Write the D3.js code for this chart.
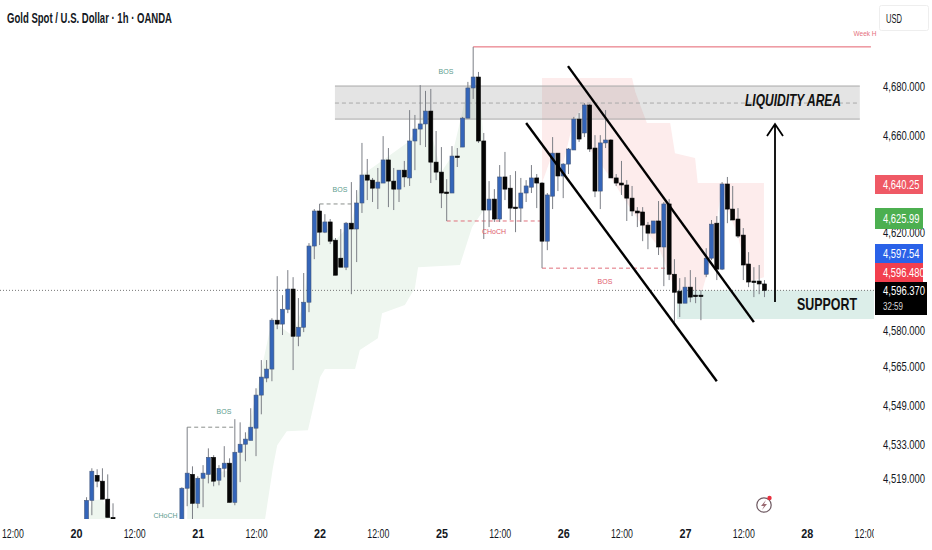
<!DOCTYPE html>
<html>
<head>
<meta charset="utf-8">
<script src="https://cdn.jsdelivr.net/npm/d3@7"></script>
<style>
  html, body { margin: 0; padding: 0; background: #fff; }
  svg { display: block; }
  text { font-family: "Liberation Sans", sans-serif; }
</style>
</head>
<body>
<div id="chart"></div>
<script>
// hourly candles, index 0 is 20th 02:00. null = below the visible pane
const opens = [4499.8,4510,4520.3,4517.9,4510.5,4503,null,null,null,null,null,null,null,null,null,null,null,null,
  4497.7,4515,4520.7,4508.8,4519.1,4520.7,4527.7,4518.3,4523.2,4525.3,4509.2,4529.8,4533.1,4534.7,4539.7,4553.3,4560.3,4564,4584.1,4582.5,4588.6,4596.9,
  4577.5,4581.2,4591.5,4614.6,4629,4620.3,4624.5,4617,4609.6,4605.9,4624,4621.6,4632.3,4643.8,4641.7,4638.4,4640.5,4650,4641.3,4638,4645.8,4642.6,4657.8,4662.7,4664.8,4670.1,4649.1,4645,4636.8,4636.4,4651.6,4655.3,4667.2,4679.6,4684.1,4657.8,4629.4,4633.9,4625.7,4643,
  4638.4,4630.6,4630.2,4636.4,4638.8,4642.6,4640.5,4616.6,4635.1,4652.8,4643.4,4648.3,4654.1,4666.8,4661.1,4672.6,4654.9,4637.2,4657,4658.2,4642.6,4640.5,4639.7,4634.3,4629,4628.6,4623.2,4619.9,4624.9,4614.2,4631.9,4603,4596,4591.1,4597.7,4594.4,4594.4,4603,4609.6,4624,4605.1,4640.1,4629.8,4625.7,4619.1,4607.2,4600.2,4600.2,4599];
const highs = [4511.3,4523.2,4522.8,4523.2,4520.7,4508.8,null,null,null,null,null,null,null,null,null,null,null,null,
  4515.4,4540.1,4524,4519.9,4524.5,4531.4,4528.6,4524.5,4532.3,4527.3,4543.4,4542.1,4538,4547.9,4556.1,4567.7,4567.7,4584.9,4602.2,4594.4,4604.7,4601.8,
  4593.2,4603.5,4615.8,4629.8,4631.9,4627.7,4625.7,4617.9,4621.6,4624.5,4640.9,4637.6,4657,4650.4,4642.6,4646.7,4659.8,4654.9,4646.7,4645.8,4649.6,4670.5,4668.5,4680.8,4678.4,4679.2,4661.9,4655.3,4642.1,4655.7,4654.9,4667.7,4682.1,4696.5,4686.2,4661.1,4641.3,4638,4647.9,4653.3,
  4643.8,4645.4,4642.6,4641.7,4647.9,4644.2,4640.9,4636.4,4659.4,4652.8,4648.7,4654.9,4667.7,4669.3,4673.4,4673,4660.2,4660.2,4670.5,4658.6,4644.2,4649.6,4641.7,4639.3,4630.6,4630.6,4624.5,4624.9,4633.1,4632.7,4633.9,4609.2,4601.4,4601.8,4604.7,4601.8,4596.5,4613.7,4625.3,4626.9,4640.9,4643,4639.3,4630.2,4622,4612.1,4605.9,4606.8,4600.6];
const lows = [4497.7,4503.9,4515.4,4510.5,4503,4501,null,null,null,null,null,null,null,null,null,null,null,null,
  4495.6,4507.6,4499.8,4506.8,4507.2,4517,4515.8,4516.2,4519.5,4509.2,4508,4517.5,4526.1,4534.7,4528.2,4545.4,4558.6,4559,4580.4,4578,4587,4563.6,
  4573.4,4579.2,4587.4,4609.2,4615,4619.9,4615.4,4602.6,4605.9,4604.7,4594.8,4608,4628.2,4633.5,4632.7,4629.8,4640.5,4630.6,4629.4,4632.7,4638.8,4639.3,4645.8,4656.1,4655.3,4640.5,4641.7,4630.2,4624.9,4636.4,4647.1,4655.3,4667.2,4675.1,4657,4617.5,4622.4,4624.5,4624.5,4633.5,
  4625.3,4620.3,4624.5,4632.7,4636.4,4630.2,4605.5,4612.9,4629.8,4637.2,4634.3,4644.2,4654.1,4657.4,4659.4,4653.3,4634.7,4629.8,4654.9,4642.6,4639.3,4635.6,4624.9,4626.9,4622.4,4616.6,4613.3,4619.9,4610.9,4598.1,4600.6,4583.3,4585.4,4591.1,4591.5,4591.1,4584.1,4601.8,4608.8,4600.6,4604.7,4624,4625.3,4617.9,4600.6,4597.7,4593.6,4594.8,4593.6];
const closes = [4510,4522,4517.9,4510.5,4503,4501.8,null,null,null,null,null,null,null,null,null,null,null,null,
  4515,4521.2,4508.8,4519.1,4521.2,4527.7,4517.9,4523.2,4525.3,4509.2,4529.8,4533.1,4535.2,4540.1,4553.3,4560.7,4564,4584.1,4582.5,4588.6,4596.9,4577.5,
  4581.2,4591.5,4614.6,4629,4620.3,4624.5,4616.6,4602.6,4605.9,4624,4621.6,4632.3,4643.8,4641.7,4638.4,4640.9,4650,4641.3,4638,4645.8,4643,4657.8,4662.7,4664.8,4670.1,4649.1,4645,4636.4,4636.4,4651.6,4651.2,4667.2,4679.6,4684.1,4657.8,4629.4,4633.9,4625.7,4643,4638,
  4630.2,4630.2,4636.4,4639.3,4642.6,4640.5,4616.6,4635.6,4652.8,4643.4,4648.3,4654.5,4666.8,4658.6,4672.6,4654.5,4637.2,4657,4658.2,4642.6,4640.5,4639.7,4634.3,4629,4628.2,4623.2,4619.9,4624.9,4614.2,4631.9,4603,4595.6,4591.1,4597.7,4593.6,4594,4594,4609.6,4623.6,4605.1,4640.1,4629.8,4625.3,4618.7,4606.8,4599.8,4599.8,4599,4596.37];

const priceTicks = [4680, 4660, 4620, 4580, 4565, 4549, 4533, 4519];
const timeTicks = [-14, -2, 9, 21, 32, 44, 55, 67, 78, 90, 101, 113, 124, 136, 147];
const timeLabels = ["12:00","20","12:00","21","12:00","22","12:00","25","12:00","26","12:00","27","12:00","28","12:00"];

// shaded zones as [hour, price]
const greenZone = [[19,4515],[23,4520.7],[27,4522.4],[30,4534.7],[32,4553.3],[35,4584.1],[39,4577.5],[41,4591.5],[43,4629],[47,4617],[50,4624],[52,4643.8],[56,4650],[61,4657.8],[64,4670.1],[67,4645],[69,4651.6],[72,4679.6],[74,4684],[75,4657.8],
  [75,4629.4],[72.8,4622.4],[70.5,4606.8],[62.6,4605.9],[62,4597.3],[60.1,4590.3],[55.8,4587],[55,4576.7],[51.6,4571.8],[50.7,4564],[45,4564],[44.1,4560.7],[41.8,4538.8],[37.8,4538.4],[36,4532.7],[35.2,4523.6],[33.7,4502.2],[19,4502.2]];
const greenZoneEarly = [[0.3,4502],[1,4510],[3,4510.5],[4.8,4502]];
const pinkZone = [[86,4683.7],[103,4683.7],[103.6,4678],[105.8,4665.2],[110.2,4665.2],[111.1,4652.8],[114.9,4650.8],[115.4,4640.5],[127.9,4640.5],[127.9,4601.8],
  [125,4599.8],[123,4618.7],[121,4629.8],[120,4640.1],[118,4609.6],[116,4594.4],[112,4591.1],[110,4603],[108,4614.2],[106,4619.9],[103,4629],[99,4642.6],[95,4654.5],[94,4672.6],[92,4666.8],[90,4648.3],[88,4652.8],[86,4640.5]];

const liquidityZone = { from: 46.9, to: 146, top: 4680.4, bottom: 4666.8, mid: 4673.4 };
const supportZone = { from: 111.5, to: 150, top: 4596.4, bottom: 4584.6 };

// structure lines: [from hour, to hour, price]
const bosLines = [[19, 28.2, 4540.1], [44, 50, 4631.9]];
const redDashes = [[68, 85.6, 4624.9], [86, 110, 4605.5]];
const weekHigh = [73, 148.1, 4696.5];
const lastPrice = 4596.37;

// channel, [hour, price] pairs
const channelUpper = [[90.9, 4688.6], [126, 4583.3]];
const channelLower = [[83, 4665.2], [119, 4559]];

const width = 932, height = 550, paneRight = 874, paneBottom = 519;

const x = d3.scaleLinear().domain([-14, 147]).range([12.4, 865.1]);
const y = d3.scaleLinear().domain([4519, 4680]).range([478.5, 87]);
const px = d => x(d[0]) + "," + y(d[1]);

const svg = d3.select("#chart").append("svg")
    .attr("width", width)
    .attr("height", height)
    .attr("viewBox", [0, 0, width, height]);

const defs = svg.append("defs");
defs.append("clipPath").attr("id", "pane").append("rect")
    .attr("width", paneRight).attr("height", paneBottom);
defs.append("clipPath").attr("id", "timeClip").append("rect")
    .attr("width", paneRight).attr("height", height);

const pane = svg.append("g").attr("clip-path", "url(#pane)");

// zones
pane.append("polygon").attr("points", pinkZone.map(px).join(" ")).attr("fill", "#fdecec");
pane.append("polygon").attr("points", greenZone.map(px).join(" ")).attr("fill", "#eef6ef");
pane.append("polygon").attr("points", greenZoneEarly.map(px).join(" ")).attr("fill", "#eef6ef");

pane.append("rect")
    .attr("x", x(liquidityZone.from))
    .attr("y", y(liquidityZone.top))
    .attr("width", x(liquidityZone.to) - x(liquidityZone.from))
    .attr("height", y(liquidityZone.bottom) - y(liquidityZone.top))
    .attr("fill", "#787878")
    .attr("fill-opacity", 0.2);
pane.selectAll(".zone-edge")
    .data([liquidityZone.top, liquidityZone.bottom])
    .join("line")
    .attr("class", "zone-edge")
    .attr("x1", x(liquidityZone.from)).attr("x2", x(liquidityZone.to))
    .attr("y1", d => y(d)).attr("y2", d => y(d))
    .attr("stroke", "#a9a9a9");
pane.append("line")
    .attr("x1", x(liquidityZone.from)).attr("x2", x(liquidityZone.to))
    .attr("y1", y(liquidityZone.mid)).attr("y2", y(liquidityZone.mid))
    .attr("stroke", "#a9a9a9")
    .attr("stroke-dasharray", "4 3");

pane.append("rect")
    .attr("x", x(supportZone.from))
    .attr("y", y(supportZone.top))
    .attr("width", x(supportZone.to) - x(supportZone.from))
    .attr("height", y(supportZone.bottom) - y(supportZone.top))
    .attr("fill", "#dceee9");

// last price dotted line
pane.append("line")
    .attr("x1", 0).attr("x2", paneRight)
    .attr("y1", y(lastPrice)).attr("y2", y(lastPrice))
    .attr("stroke", "#777")
    .attr("stroke-dasharray", "1 2");

// dashed structure
pane.selectAll(".bos").data(bosLines).join("line")
    .attr("class", "bos")
    .attr("x1", d => x(d[0])).attr("x2", d => x(d[1]))
    .attr("y1", d => y(d[2])).attr("y2", d => y(d[2]))
    .attr("stroke", "#8a8f8c")
    .attr("stroke-dasharray", "4 3");
pane.selectAll(".red-dash").data(redDashes).join("line")
    .attr("class", "red-dash")
    .attr("x1", d => x(d[0])).attr("x2", d => x(d[1]))
    .attr("y1", d => y(d[2])).attr("y2", d => y(d[2]))
    .attr("stroke", "#e0707c")
    .attr("stroke-dasharray", "4 3");
pane.append("line")
    .attr("x1", x(weekHigh[0])).attr("x2", x(weekHigh[1]))
    .attr("y1", y(weekHigh[2])).attr("y2", y(weekHigh[2]))
    .attr("stroke", "#e4606e");

// candles
const candles = d3.range(opens.length)
    .filter(i => opens[i] !== null)
    .map(i => ({ i, o: opens[i], h: highs[i], l: lows[i], c: closes[i] }));

const candle = pane.selectAll(".candle").data(candles).join("g").attr("class", "candle");
candle.append("line")
    .attr("x1", d => x(d.i)).attr("x2", d => x(d.i))
    .attr("y1", d => y(d.h)).attr("y2", d => y(d.l))
    .attr("stroke", "#7c7f86")
    .attr("stroke-width", 1);
candle.append("rect")
    .attr("x", d => x(d.i) - 2)
    .attr("width", 4)
    .attr("y", d => y(Math.max(d.o, d.c)))
    .attr("height", d => Math.max(1.5, Math.abs(y(d.o) - y(d.c))))
    .attr("fill", d => d.c >= d.o ? "#3465b9" : "#050505")
    .attr("stroke", d => d.c >= d.o ? "#44587c" : "#050505")
    .attr("stroke-width", 0.6);

// channel and arrow
pane.selectAll(".channel").data([channelUpper, channelLower]).join("line")
    .attr("class", "channel")
    .attr("x1", d => x(d[0][0])).attr("y1", d => y(d[0][1]))
    .attr("x2", d => x(d[1][0])).attr("y2", d => y(d[1][1]))
    .attr("stroke", "#000")
    .attr("stroke-width", 2.4);

svg.append("path")
    .attr("d", "M775,302V124M767,136L775,124L783,136")
    .attr("fill", "none")
    .attr("stroke", "#000")
    .attr("stroke-width", 1.8);

// labels inside the pane
const note = (txt, cx, cy, color, size) => svg.append("text")
    .attr("x", cx).attr("y", cy)
    .attr("text-anchor", "middle")
    .attr("dominant-baseline", "middle")
    .attr("fill", color)
    .attr("font-size", size)
    .text(txt);

note("BOS", 446, 72, "#5c9b8e", 7);
note("BOS", 340, 190, "#5c9b8e", 7);
note("BOS", 224, 412, "#5c9b8e", 7);
note("CHoCH", 165.5, 516.5, "#5c9b8e", 7);
note("CHoCH", 494, 232.5, "#de5a6c", 7);
note("BOS", 605, 282, "#de5a6c", 7);
note("Week H", 865, 34, "#e4707c", 6.5);

note("LIQUIDITY AREA", 793, 102, "#111", 17)
    .attr("font-style", "italic")
    .attr("font-weight", 700)
    .attr("textLength", 96)
    .attr("lengthAdjust", "spacingAndGlyphs");
note("SUPPORT", 827, 306, "#111", 17)
    .attr("font-weight", 700)
    .attr("textLength", 60)
    .attr("lengthAdjust", "spacingAndGlyphs");

// title
svg.append("text")
    .attr("x", 7).attr("y", 22.5)
    .attr("font-size", 14)
    .attr("font-weight", 700)
    .attr("fill", "#131722")
    .attr("textLength", 165)
    .attr("lengthAdjust", "spacingAndGlyphs")
    .text("Gold Spot / U.S. Dollar · 1h · OANDA");

// axes
const yAxis = svg.append("g")
    .attr("transform", `translate(${883},0)`)
    .call(d3.axisRight(y).tickValues(priceTicks).tickSize(0).tickPadding(0).tickFormat(d3.format(",.3f")));
yAxis.select(".domain").remove();
yAxis.selectAll("text")
    .attr("font-size", 12)
    .attr("fill", "#131722")
    .attr("transform", "scale(0.79,1)"); // scale labels are narrower than any installed font

const xAxis = svg.append("g")
    .attr("clip-path", "url(#timeClip)")
    .append("g")
    .attr("transform", `translate(0,${529})`)
    .call(d3.axisBottom(x).tickValues(timeTicks).tickSize(0).tickPadding(0).tickFormat((d, i) => timeLabels[i]));
xAxis.select(".domain").remove();
xAxis.selectAll("text")
    .attr("font-size", 12)
    .attr("fill", "#131722")
    .attr("font-weight", (d, i) => timeLabels[i].includes(":") ? 400 : 700)
    .attr("textLength", (d, i) => timeLabels[i].includes(":") ? 22 : 12)
    .attr("lengthAdjust", "spacingAndGlyphs");

// price tags on the right scale
const tagRows = ["4,640.25", "4,625.99", "4,597.54", "4,596.480"];
const tagTops = [175, 208, 244, 263];
const tagHeights = [19, 21, 19, 19];
const tagColors = ["#ef5965", "#4caf50", "#2a62e8", "#f23f4e"];
tagRows.forEach((t, i) => {
    svg.append("rect")
        .attr("x", 875).attr("y", tagTops[i])
        .attr("width", 48).attr("height", tagHeights[i])
        .attr("fill", tagColors[i]);
    svg.append("text")
        .attr("transform", `translate(883,${tagTops[i] + tagHeights[i] / 2 + 4}) scale(0.78,1)`)
        .attr("font-size", 12)
        .attr("fill", "#fff")
        .text(t);
});
svg.append("rect").attr("x", 875).attr("y", 282).attr("width", 52).attr("height", 33).attr("fill", "#000");
svg.append("text").attr("transform", "translate(883,295) scale(0.79,1)").attr("font-size", 12).attr("fill", "#fff").text("4,596.370");
svg.append("text").attr("x", 883).attr("y", 310).attr("font-size", 11.5).attr("fill", "#d8d8d8")
    .attr("textLength", 20).attr("lengthAdjust", "spacingAndGlyphs").text("32:59");

// currency button
svg.append("rect")
    .attr("x", 879.5).attr("y", 5.5).attr("width", 49).attr("height", 25).attr("rx", 2)
    .attr("fill", "#fff").attr("stroke", "#eeeeee");
svg.append("text").attr("x", 886).attr("y", 23).attr("font-size", 13).attr("fill", "#131722")
    .attr("textLength", 16).attr("lengthAdjust", "spacingAndGlyphs").text("USD");

// bolt badge
svg.append("circle").attr("cx", 764).attr("cy", 505).attr("r", 7.2)
    .attr("fill", "#fff").attr("stroke", "#6f5a62").attr("stroke-width", 1.2);
svg.append("path").attr("d", "M766,500L761,506H764L762,510L767,504H764Z").attr("fill", "#9a6a72");
svg.append("circle").attr("cx", 769.5).attr("cy", 498).attr("r", 2.2).attr("fill", "#e8303f");
</script>
</body>
</html>
